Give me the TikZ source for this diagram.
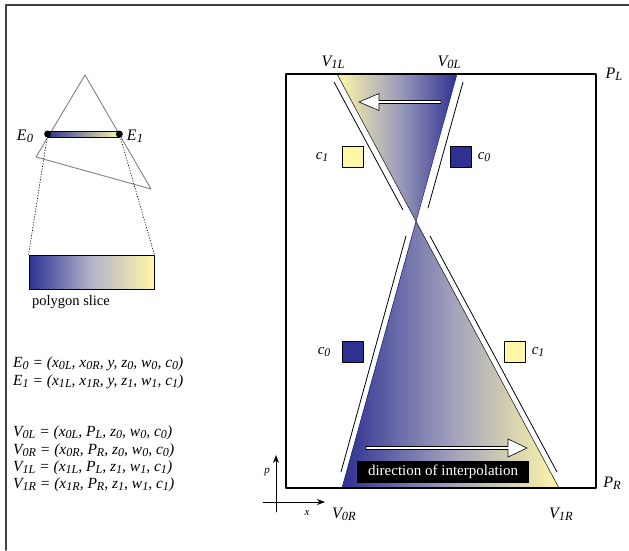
\documentclass[tikz,border=0pt]{standalone}
\usepackage{graphicx}
\usepackage{fontspec}
\setmainfont{Liberation Serif}
\usetikzlibrary{arrows.meta}
\definecolor{cblue}{RGB}{46,49,146}
\definecolor{cyel}{RGB}{255,247,168}
\definecolor{cmid}{RGB}{160,160,188}
\newcommand{\sbs}[1]{\raisebox{-0.3ex}{\scalebox{0.78}{#1}}}
\tikzset{
  lbl/.style={inner sep=0pt,font=\fontsize{16}{18}\selectfont\itshape},
  eqn/.style={anchor=west,inner sep=0pt,font=\fontsize{15.5}{17}\selectfont\itshape},
  clbl/.style={inner sep=0pt,font=\fontsize{15}{17}\selectfont\itshape},
  colbox/.style={draw,line width=0.8pt,minimum size=21pt,inner sep=0pt},
  guide/.style={line width=0.8pt}
}
\begin{document}
\begin{tikzpicture}[x=1pt,y=-1pt,>={Stealth[length=8pt,width=6pt]},line cap=round,line join=round]
\useasboundingbox (0,0) rectangle (629,550);
\draw[line width=1.5pt,black!75] (6,550) -- (6,5) -- (629,5);
% left: triangle and its slice
\draw[gray,line width=0.9pt] (85,75) -- (36,157) -- (151,189) -- cycle;
\node (edge) at (83.5,134) [draw,line width=0.7pt,left color=cblue,right color=cyel,minimum width=71pt,minimum height=6pt,inner sep=0pt] {};
\fill (edge.west) circle (3.5pt);
\fill (edge.east) circle (3.5pt);
\node[lbl] (e0) at (25,136) {E\sbs{0}};
\node[lbl] (e1) at (135,136) {E\sbs{1}};
\node (slice) at (91.5,272) [draw,line width=0.8pt,left color=cblue,right color=cyel,middle color=cmid!80!white,minimum width=125pt,minimum height=34pt,inner sep=0pt] {};
\draw[dotted,line width=0.7pt] (edge.west) -- (slice.north west);
\draw[dotted,line width=0.7pt] (edge.east) -- (slice.north east);
\node[inner sep=0pt,font=\fontsize{14.5}{16}\selectfont] (slicelbl) at (71,302) {polygon slice};
% equations
\node[eqn] (eqE0) at (13,364) {E\sbs{0} = (x\sbs{0L}, x\sbs{0R}, y, z\sbs{0}, w\sbs{0}, c\sbs{0})};
\node[eqn] (eqE1) at (13,382) {E\sbs{1} = (x\sbs{1L}, x\sbs{1R}, y, z\sbs{1}, w\sbs{1}, c\sbs{1})};
\node[eqn] (eqV0L) at (13,433) {V\sbs{0L} = (x\sbs{0L}, P\sbs{L}, z\sbs{0}, w\sbs{0}, c\sbs{0})};
\node[eqn] (eqV0R) at (13,451) {V\sbs{0R} = (x\sbs{0R}, P\sbs{R}, z\sbs{0}, w\sbs{0}, c\sbs{0})};
\node[eqn] (eqV1L) at (13,468) {V\sbs{1L} = (x\sbs{1L}, P\sbs{L}, z\sbs{1}, w\sbs{1}, c\sbs{1})};
\node[eqn] (eqV1R) at (13,485) {V\sbs{1R} = (x\sbs{1R}, P\sbs{R}, z\sbs{1}, w\sbs{1}, c\sbs{1})};
% right: the two spans
\coordinate (V1L) at (337,74);
\coordinate (V0L) at (457,74);
\coordinate (X) at (416,221);
\coordinate (V0R) at (342,488);
\coordinate (V1R) at (559,488);
\shade[left color=cyel,right color=cblue,middle color=cmid] (V1L) -- (V0L) -- (X) -- cycle;
\shade[left color=cblue,right color=cyel,middle color=cmid] (X) -- (V0R) -- (V1R) -- cycle;
\draw[line width=0.6pt,black!85] (V1L) -- (V1R);
\draw[line width=0.6pt,cblue!80!black] (V0L) -- (V0R);
\draw[line width=1.1pt] (286,74) rectangle (596,488);
\draw[guide] (334,82) -- (403,210);
\draw[guide] (463,82) -- (428,208);
\draw[guide] (406,236) -- (341,472);
\draw[guide] (430,236) -- (557,472);
% hollow arrows
\draw[fill=white,line width=0.6pt] (441,100.5) -- (379,100.5) -- (379,93.5) -- (359,102) -- (379,110.5) -- (379,103.5) -- (441,103.5) -- cycle;
\draw[fill=white,line width=0.6pt] (366,446.5) -- (508,446.5) -- (508,439) -- (527,448) -- (508,457) -- (508,449.5) -- (366,449.5) -- cycle;
\node (dir) at (443,472) [fill=black,text=white,minimum width=172pt,minimum height=22pt,inner sep=0pt,font=\fontsize{15}{17}\selectfont] {direction of interpolation};
% colour boxes
\node[colbox,fill=cyel] (sqc1a) at (352.5,156.5) {};
\node[colbox,fill=cblue] (sqc0a) at (461,156.5) {};
\node[colbox,fill=cblue] (sqc0b) at (352.5,351.5) {};
\node[colbox,fill=cyel] (sqc1b) at (515,351.5) {};
\node[clbl] (c1a) at (322,157) {c\sbs{1}};
\node[clbl] (c0a) at (484,157) {c\sbs{0}};
\node[clbl] (c0b) at (324,352) {c\sbs{0}};
\node[clbl] (c1b) at (538,352) {c\sbs{1}};
% vertex labels
\node[lbl] (lV1L) at (333,62) {V\sbs{1L}};
\node[lbl] (lV0L) at (449,62) {V\sbs{0L}};
\node[lbl] (lPL) at (614,74) {P\sbs{L}};
\node[lbl] (lPR) at (612,483) {P\sbs{R}};
\node[lbl] (lV0R) at (344,514) {V\sbs{0R}};
\node[lbl] (lV1R) at (561,514) {V\sbs{1R}};
% axes
\coordinate (pbot) at (276,512);
\coordinate (ptop) at (276,455);
\coordinate (xleft) at (263,502);
\coordinate (xright) at (325,502);
\draw[->,line width=0.8pt] (pbot) -- (ptop);
\draw[->,line width=0.8pt] (xleft) -- (xright);
\node[inner sep=0pt,font=\fontsize{11}{13}\selectfont\itshape] (pl) at (267,472) {p};
\node[inner sep=0pt,font=\fontsize{11}{13}\selectfont\itshape] (xl) at (307,513) {x};
\end{tikzpicture}
\end{document}
